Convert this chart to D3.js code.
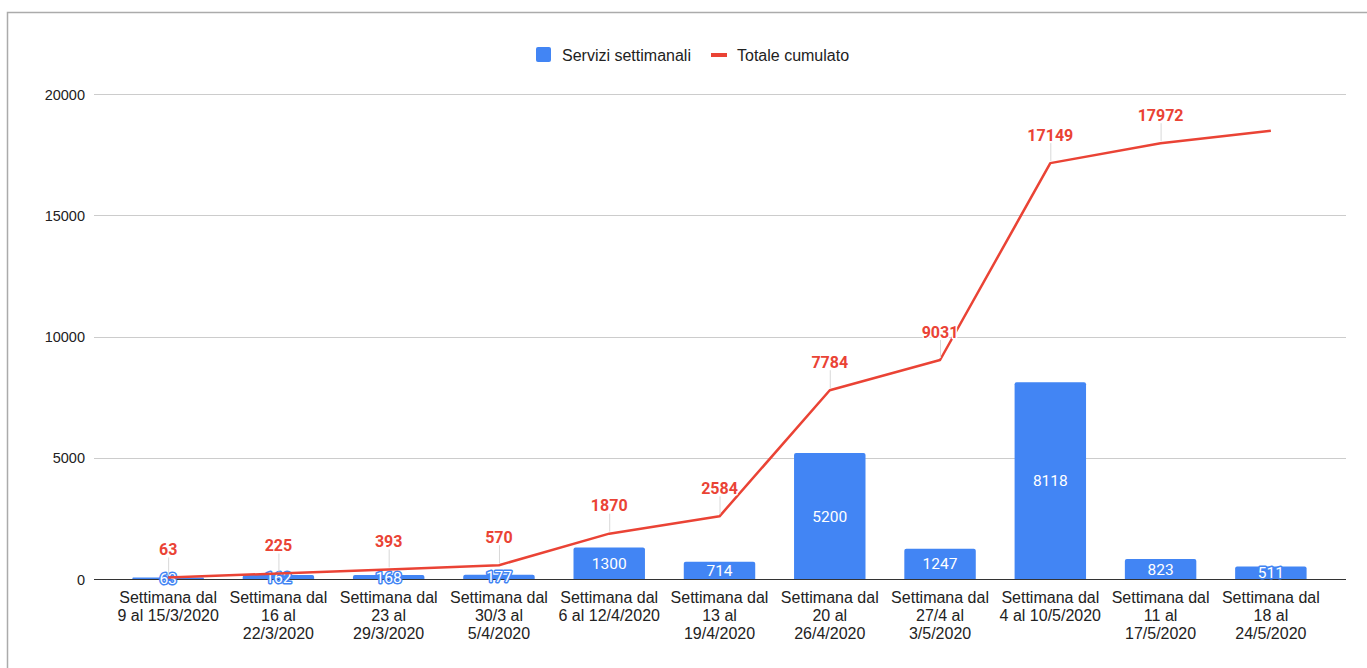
<!DOCTYPE html>
<html><head><meta charset="utf-8">
<script src="https://cdn.jsdelivr.net/npm/d3@7"></script>
<style>html,body{margin:0;padding:0;background:#fff;}svg{display:block;}</style>
</head><body>
<svg id="chart" width="1367" height="668"></svg>
<script>
const categories = [
  ["Settimana dal", "9 al 15/3/2020"],
  ["Settimana dal", "16 al", "22/3/2020"],
  ["Settimana dal", "23 al", "29/3/2020"],
  ["Settimana dal", "30/3 al", "5/4/2020"],
  ["Settimana dal", "6 al 12/4/2020"],
  ["Settimana dal", "13 al", "19/4/2020"],
  ["Settimana dal", "20 al", "26/4/2020"],
  ["Settimana dal", "27/4 al", "3/5/2020"],
  ["Settimana dal", "4 al 10/5/2020"],
  ["Settimana dal", "11 al", "17/5/2020"],
  ["Settimana dal", "18 al", "24/5/2020"]
];
const weekly = [63, 162, 168, 177, 1300, 714, 5200, 1247, 8118, 823, 511];
const cumulative = [63, 225, 393, 570, 1870, 2584, 7784, 9031, 17149, 17972, 18483];
const cumulativeLabelShown = [true, true, true, true, true, true, true, true, true, true, false];
const yTicks = [0, 5000, 10000, 15000, 20000];
const seriesNames = ["Servizi settimanali", "Totale cumulato"];

const blue = "#4285f4", red = "#ea4335";
const axisFont = "Arial, 'Liberation Sans', sans-serif";
const dataFont = "Roboto, Arial, sans-serif";

const svg = d3.select("#chart");

// outer border
svg.append("path").attr("d", "M7.5,668 V12.5 H1367").attr("fill", "none")
  .attr("stroke", "#ababab").attr("stroke-width", 1.5);

const plotLeft = 94, plotRight = 1346;
const x = d3.scaleBand().domain(d3.range(categories.length)).range([113, 1326]).paddingInner(0.352).paddingOuter(0.176);
const y = d3.scaleLinear().domain([0, 20000]).range([579, 94]);

// gridlines
const grid = svg.append("g");
grid.selectAll("line").data(yTicks.filter(d => d !== 0)).join("line")
  .attr("x1", plotLeft).attr("x2", plotRight)
  .attr("y1", d => Math.round(y(d)) + 0.5).attr("y2", d => Math.round(y(d)) + 0.5)
  .attr("stroke", "#cccccc").attr("stroke-width", 1);

// y axis using d3 axis
const yAxis = d3.axisLeft(y).tickValues(yTicks).tickSize(0).tickPadding(0).tickFormat(d => String(d));
const ya = svg.append("g").attr("transform", "translate(85,0)").call(yAxis);
ya.select(".domain").remove();
ya.selectAll("text").attr("font-family", axisFont).attr("font-size", 14.5).attr("fill", "#222").attr("dy", "0.35em");

// bars
const rr = 2;
svg.append("g").selectAll("path").data(weekly).join("path")
  .attr("fill", blue)
  .attr("d", (d, i) => {
    const x0 = x(i), w = x.bandwidth(), y0 = y(d), y1 = y(0);
    const r = Math.min(rr, (y1 - y0) / 2);
    return `M${x0},${y1} V${y0 + r} Q${x0},${y0} ${x0 + r},${y0} H${x0 + w - r} Q${x0 + w},${y0} ${x0 + w},${y0 + r} V${y1} Z`;
  });

// baseline
svg.append("line").attr("x1", plotLeft).attr("x2", plotRight).attr("y1", 579.5).attr("y2", 579.5)
  .attr("stroke", "#333").attr("stroke-width", 1);

// x axis labels
const xa = svg.append("g");
categories.forEach((lines, i) => {
  const t = xa.append("text").attr("x", x(i) + x.bandwidth() / 2).attr("y", 603)
    .attr("text-anchor", "middle").attr("font-family", axisFont).attr("font-size", 16).attr("fill", "#222");
  lines.forEach((l, j) => t.append("tspan").attr("x", x(i) + x.bandwidth() / 2).attr("y", 603 + j * 18).text(l));
});

// bar labels
svg.append("g").selectAll("text").data(weekly).join("text")
  .attr("x", (d, i) => x(i) + x.bandwidth() / 2)
  .attr("y", d => (y(d) + y(0)) / 2)
  .attr("dy", "0.36em")
  .attr("text-anchor", "middle").attr("font-family", dataFont).attr("font-size", 15.5)
  .attr("fill", "#fff").attr("stroke", blue).attr("stroke-width", 3).attr("paint-order", "stroke")
  .attr("stroke-linejoin", "round")
  .text(d => d);

// line
const cx = i => x(i) + x.bandwidth() / 2;
const line = d3.line().x((d, i) => cx(i)).y(d => y(d));
svg.append("path").datum(cumulative).attr("d", line).attr("fill", "none")
  .attr("stroke", red).attr("stroke-width", 2.5).attr("stroke-linejoin", "round");

// leader lines and labels
const lbl = svg.append("g");
cumulative.forEach((d, i) => {
  if (!cumulativeLabelShown[i]) return;
  const px = cx(i), py = y(d);
  lbl.append("line").attr("x1", px + 0.5).attr("x2", px + 0.5).attr("y1", py - 2).attr("y2", py - 20)
    .attr("stroke", "#d8d8d8").attr("stroke-width", 1);
  lbl.append("text").attr("x", px).attr("y", py - 28).attr("dy", "0.36em")
    .attr("text-anchor", "middle").attr("font-family", dataFont).attr("font-size", 16).attr("font-weight", "bold")
    .attr("fill", red).attr("stroke", "#fff").attr("stroke-width", 3).attr("paint-order", "stroke")
    .attr("stroke-linejoin", "round").text(d);
});

// legend
const lg = svg.append("g");
lg.append("rect").attr("x", 536).attr("y", 47).attr("width", 15).attr("height", 15).attr("rx", 2).attr("fill", blue);
lg.append("text").attr("x", 562).attr("y", 55).attr("dy", "0.35em").attr("font-family", axisFont).attr("font-size", 16).attr("fill", "#222").text(seriesNames[0]);
lg.append("rect").attr("x", 711).attr("y", 53).attr("width", 16).attr("height", 4).attr("fill", red);
lg.append("text").attr("x", 737).attr("y", 55).attr("dy", "0.35em").attr("font-family", axisFont).attr("font-size", 16).attr("fill", "#222").text(seriesNames[1]);
</script>
</body></html>
